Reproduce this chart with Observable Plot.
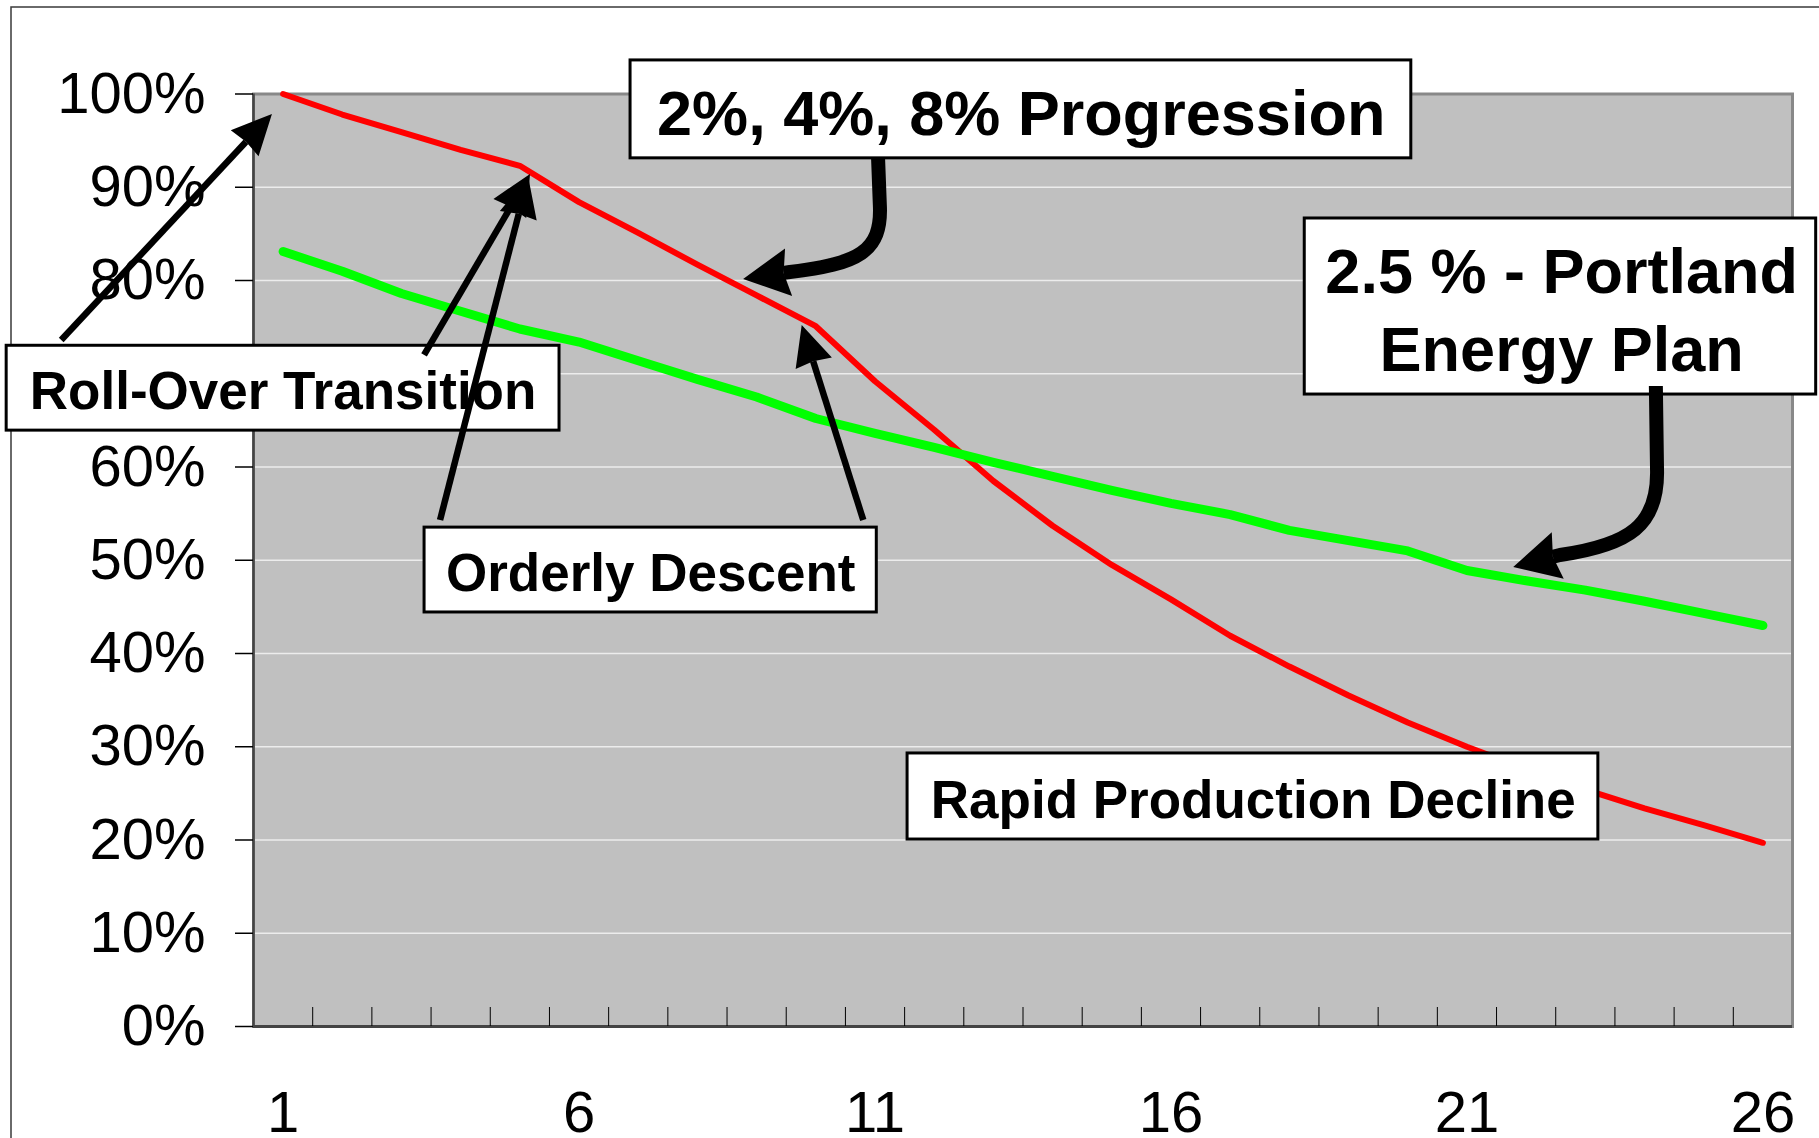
<!DOCTYPE html>
<html>
<head>
<meta charset="utf-8">
<script src="https://cdn.jsdelivr.net/npm/d3@7"></script>
<script src="https://cdn.jsdelivr.net/npm/@observablehq/plot@0.6"></script>
<style>
html, body { margin: 0; padding: 0; background: #fff; overflow: hidden; }
#chart svg { display: block; }
</style>
</head>
<body>
<div id="chart"></div>
<script>
// ---- data ----
const years = [1, 2, 3, 4, 5, 6, 7, 8, 9, 10, 11, 12, 13, 14, 15, 16, 17, 18, 19, 20, 21, 22, 23, 24, 25, 26];
// red: 2%, 4%, 8% progression (percent of peak)
const decline = [100, 97.8, 95.9, 94.0, 92.3, 88.4, 85.1, 81.7, 78.4, 75.1, 69.2, 64.0, 58.5, 53.7, 49.5, 45.8, 41.9, 38.6, 35.5, 32.6, 30.0, 27.6, 25.4, 23.4, 21.6, 19.7];
// green: 2.5 % - Portland Energy Plan
const portland = [83.1, 81.0, 78.6, 76.7, 74.8, 73.4, 71.4, 69.4, 67.5, 65.2, 63.6, 62.1, 60.5, 59.0, 57.5, 56.1, 54.9, 53.2, 52.1, 51.0, 48.9, 47.8, 46.8, 45.6, 44.3, 43.0];
const yTicks = [0, 10, 20, 30, 40, 50, 60, 70, 80, 90, 100];
const xLabels = [1, 6, 11, 16, 21, 26];

// ---- annotations (in chart units: year, percent) ----
const notes = [
  {text: "Roll-Over Transition", x: 1.0, y: 68.5, x1: -3.67, x2: 5.67, y1: 73.0, y2: 63.9, size: 53},
  {text: "2%, 4%, 8% Progression", x: 13.47, y: 98.3, x1: 6.87, x2: 20.06, y1: 103.6, y2: 93.1, size: 63},
  {text: "2.5 % - Portland\nEnergy Plan", x: 22.6, y: 77.2, x1: 18.26, x2: 26.9, y1: 86.65, y2: 67.77, size: 63},
  {text: "Orderly Descent", x: 7.21, y: 48.95, x1: 3.39, x2: 11.03, y1: 53.5, y2: 44.4, size: 53},
  {text: "Rapid Production Decline", x: 17.39, y: 24.66, x1: 11.55, x2: 23.22, y1: 29.28, y2: 20.05, size: 53}
];
const straightArrows = [
  {from: [-2.74, 73.57], to: [0.82, 97.8]},
  {from: [3.39, 71.96], to: [5.18, 91.37]},
  {from: [3.66, 54.26], to: [5.15, 91.05]},
  {from: [10.81, 54.26], to: [9.77, 75.17]}
];
const curvedArrows = [
  {p0: [11.06, 93.05], p1: [11.09, 88.04], c1: [11.13, 83.0], c2: [10.72, 81.72], p2: [9.57, 80.86], tip: [8.78, 80.11]},
  {p0: [24.20, 68.63], p1: [24.22, 59.62], c1: [24.24, 53.73], c2: [23.76, 51.58], p2: [22.58, 50.51], tip: [21.79, 49.22]}
];

const red = years.map((year, i) => ({year, value: decline[i]}));
const green = years.map((year, i) => ({year, value: portland[i]}));
const betweenTicks = years.slice(0, -1).map(d => d + 0.5);

const plot = Plot.plot({
  width: 1819,
  height: 1138,
  marginTop: 93.5,
  marginRight: 27,
  marginBottom: 112,
  marginLeft: 253,
  style: {fontFamily: '"Liberation Sans", Arial, sans-serif', color: "#000", background: "#fff", overflow: "hidden"},
  x: {type: "linear", domain: [0.5, 26.5]},
  y: {type: "linear", domain: [0, 100]},
  marks: [
    Plot.frame({fill: "#c0c0c0", stroke: null}),
    Plot.gridY(yTicks, {stroke: "#ececec", strokeOpacity: 1, strokeWidth: 1.5}),
    Plot.frame({stroke: "#888888", strokeWidth: 3, fill: null}),
    Plot.ruleX([0.5], {stroke: "#444444", strokeWidth: 2.5}),
    Plot.ruleY([0], {stroke: "#444444", strokeWidth: 3}),
    Plot.axisY(yTicks, {anchor: "left", tickSize: 18, tickPadding: 30, tickFormat: d => d + "%", fontSize: 58, label: null, strokeWidth: 1.5}),
    Plot.axisX(xLabels, {anchor: "bottom", tickSize: 0, tickPadding: 64, tickFormat: d => String(d), fontSize: 58, label: null}),
    Plot.axisX(betweenTicks, {anchor: "bottom", tickSize: 19, dy: -19, tickFormat: () => "", label: null, strokeWidth: 1}),
    Plot.line(red, {x: "year", y: "value", stroke: "#ff0000", strokeWidth: 6, strokeLinejoin: "round", strokeLinecap: "round"}),
    Plot.line(green, {x: "year", y: "value", stroke: "#00ff00", strokeWidth: 9, strokeLinejoin: "round", strokeLinecap: "round"}),
    Plot.rect(notes, {x1: "x1", x2: "x2", y1: "y1", y2: "y2", fill: "#ffffff", stroke: "#000000", strokeWidth: 3}),
    Plot.text(notes, {x: "x", y: "y", text: "text", fontSize: d => d.size, fontWeight: "bold", fill: "#000000", lineHeight: 1.24})
  ]
});

document.getElementById("chart").append(plot);

// ---- arrows and outer border, placed through the plot's scales ----
const sx = plot.scale("x"), sy = plot.scale("y");
const P = ([x, y]) => [sx.apply(x), sy.apply(y)];
const svg = d3.select(plot);

svg.insert("rect", ":first-child")
  .attr("x", 11).attr("y", 7).attr("width", 2000).attr("height", 2000)
  .attr("fill", "none").attr("stroke", "#3a3a3a").attr("stroke-width", 1.5);
svg.insert("rect", ":first-child")
  .attr("x", 0).attr("y", 0).attr("width", 1819).attr("height", 1138).attr("fill", "#fff");

function head(tip, from, L, W, notch) {
  const dx = tip[0] - from[0], dy = tip[1] - from[1], len = Math.hypot(dx, dy);
  const ux = dx / len, uy = dy / len, nx = -uy, ny = ux;
  const bx = tip[0] - L * ux, by = tip[1] - L * uy;
  const n = [bx + notch * ux, by + notch * uy];
  return {base: n, poly: [tip, [bx + W * nx, by + W * ny], n, [bx - W * nx, by - W * ny]]};
}
const ga = svg.append("g");
for (const a of straightArrows) {
  const s = P(a.from), t = P(a.to);
  const h = head(t, s, 40, 19, 2);
  ga.append("line").attr("x1", s[0]).attr("y1", s[1]).attr("x2", h.base[0]).attr("y2", h.base[1])
    .attr("stroke", "#000").attr("stroke-width", 6.5);
  ga.append("path").attr("d", "M" + h.poly.join("L") + "Z").attr("fill", "#000");
}
for (const a of curvedArrows) {
  const p0 = P(a.p0), p1 = P(a.p1), c1 = P(a.c1), c2 = P(a.c2), p2 = P(a.p2), t = P(a.tip);
  const h = head(t, p2, 46, 24, 5);
  ga.append("path")
    .attr("d", `M${p0}L${p1}C${c1} ${c2} ${p2}L${h.base}`)
    .attr("fill", "none").attr("stroke", "#000").attr("stroke-width", 14).attr("stroke-linejoin", "round");
  ga.append("path").attr("d", "M" + h.poly.join("L") + "Z").attr("fill", "#000");
}
</script>
</body>
</html>
